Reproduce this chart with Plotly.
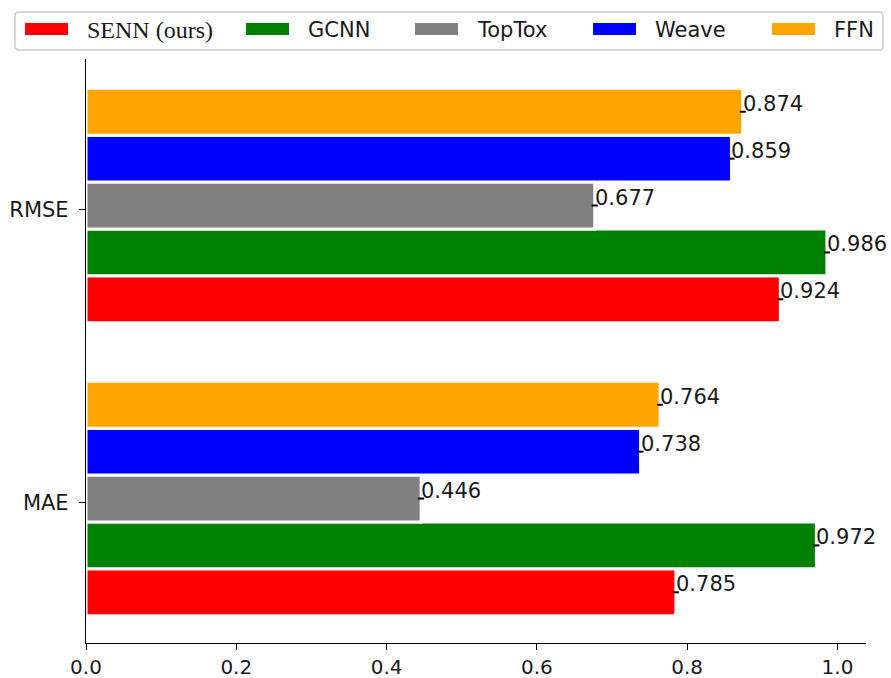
import plotly.graph_objects as go

# Metrics on the category axis (bottom to top) and the compared models
metrics = ["MAE", "RMSE"]
models = ["SENN (ours)", "GCNN", "TopTox", "Weave", "FFN"]
colors = ["red", "green", "gray", "blue", "orange"]

# Scores per model, ordered as in `metrics`
senn = [0.785, 0.924]
gcnn = [0.972, 0.986]
toptox = [0.446, 0.677]
weave = [0.738, 0.859]
ffn = [0.764, 0.874]

# Half-widths of the small error ticks at each bar end
senn_err = [0.004, 0.004]
gcnn_err = [0.004, 0.004]
toptox_err = [0.004, 0.004]
weave_err = [0.004, 0.004]
ffn_err = [0.004, 0.004]

values = [senn, gcnn, toptox, weave, ffn]
errors = [senn_err, gcnn_err, toptox_err, weave_err, ffn_err]

# Figure geometry (pixels)
W, H = 891, 678
ML, MR, MT, MB = 86, 25, 59, 35
PW, PH = W - ML - MR, H - MT - MB

BAR_H = 0.16
GROUP_START = -0.385
SANS = "DejaVu Sans"
TXT = "#1a1a1a"

positions = list(range(len(metrics)))

fig = go.Figure()
annotations = []
for i, (name, vals, errs, col) in enumerate(zip(models, values, errors, colors)):
    off = GROUP_START + i * BAR_H
    fig.add_trace(go.Bar(
        x=vals, y=positions, orientation="h", name=name,
        width=BAR_H, offset=off,
        marker=dict(color=col, line=dict(color="white", width=3)),
        error_x=dict(type="data", array=errs, color="black", thickness=2, width=0),
        showlegend=False,
    ))
    for p, v in zip(positions, vals):
        annotations.append(dict(
            x=v, y=p + off + BAR_H / 2, xref="x", yref="y",
            text=f"{v:.3f}", showarrow=False, xanchor="left", yanchor="middle",
            xshift=-2, yshift=8, font=dict(family=SANS, size=21, color=TXT),
        ))


def px_x(px):
    return (px - ML) / PW


def px_y(py):
    return (H - MB - py) / PH


# Legend drawn as a rounded box with wide colour swatches
box_l, box_r, box_t, box_b, rad = 15, 883, 12, 50, 4
path = (
    f"M {px_x(box_l + rad)},{px_y(box_t)} L {px_x(box_r - rad)},{px_y(box_t)} "
    f"Q {px_x(box_r)},{px_y(box_t)} {px_x(box_r)},{px_y(box_t + rad)} "
    f"L {px_x(box_r)},{px_y(box_b - rad)} "
    f"Q {px_x(box_r)},{px_y(box_b)} {px_x(box_r - rad)},{px_y(box_b)} "
    f"L {px_x(box_l + rad)},{px_y(box_b)} "
    f"Q {px_x(box_l)},{px_y(box_b)} {px_x(box_l)},{px_y(box_b - rad)} "
    f"L {px_x(box_l)},{px_y(box_t + rad)} "
    f"Q {px_x(box_l)},{px_y(box_t)} {px_x(box_l + rad)},{px_y(box_t)} Z"
)
shapes = [dict(type="path", xref="paper", yref="paper", path=path,
               line=dict(color="#cccccc", width=1.5), fillcolor="white", layer="above")]

legend_x = [25, 246, 415, 593, 772]
sw_w, sw_top, sw_bot, text_gap = 43, 23, 35, 62
for name, col, lx in zip(models, colors, legend_x):
    shapes.append(dict(type="rect", xref="paper", yref="paper",
                       x0=px_x(lx), x1=px_x(lx + sw_w), y0=px_y(sw_bot), y1=px_y(sw_top),
                       fillcolor=col, line=dict(width=0), layer="above"))
    serif = "(ours)" in name
    annotations.append(dict(
        x=px_x(lx + text_gap - 2), y=px_y(29.5), xref="paper", yref="paper",
        text=name, showarrow=False, xanchor="left", yanchor="middle",
        font=dict(family="Liberation Serif" if serif else SANS,
                  size=24 if serif else 21, color=TXT),
    ))

axis_common = dict(
    showline=True, linecolor="black", linewidth=1.3, mirror=False,
    ticks="outside", ticklen=6, tickwidth=1.3, tickcolor="black",
    showgrid=False, zeroline=False, automargin=False,
)

fig.update_layout(
    width=W, height=H,
    margin=dict(l=ML, r=MR, t=MT, b=MB, autoexpand=False),
    paper_bgcolor="white", plot_bgcolor="white",
    barmode="overlay",
    showlegend=False,
    xaxis=dict(range=[0, 1.038], tickvals=[0, 0.2, 0.4, 0.6, 0.8, 1.0],
               tickformat=".1f", tickfont=dict(family=SANS, size=20, color=TXT),
               **axis_common),
    yaxis=dict(range=[-0.478, 1.515], tickvals=positions, ticktext=metrics,
               ticklabelstandoff=6, tickfont=dict(family=SANS, size=21, color=TXT),
               **axis_common),
    annotations=annotations,
    shapes=shapes,
)

fig.write_html("out.html")
